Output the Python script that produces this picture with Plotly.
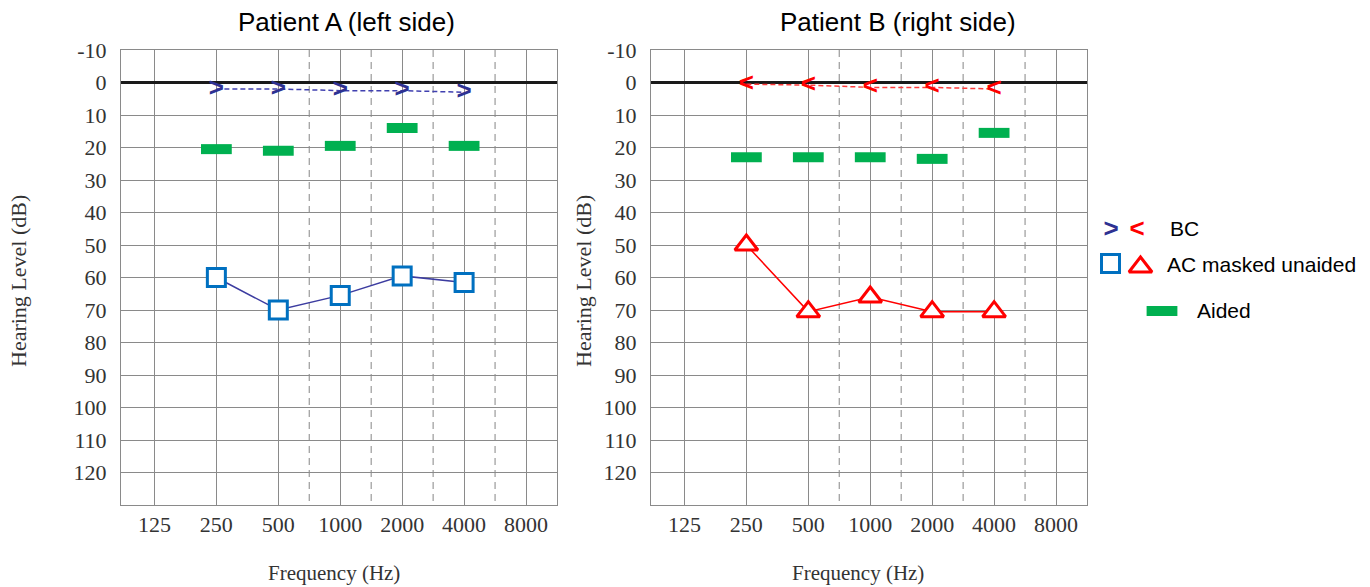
import math
import plotly.graph_objects as go

# Audiogram data (frequency in Hz, hearing level in dB HL)
tick_freqs = [125, 250, 500, 1000, 2000, 4000, 8000]
half_octave_freqs = [750, 1500, 3000, 6000]
test_freqs = [250, 500, 1000, 2000, 4000]
db_ticks = list(range(-10, 130, 10))
db_labels = ["-10"] + [str(v) for v in db_ticks[1:]]

# Patient A (left side)
bc_a = [2, 2, 2.5, 2.5, 3]
ac_a = [60, 70, 65.5, 59.5, 61.5]
aided_a = [20.5, 21, 19.5, 14, 19.5]

# Patient B (right side)
bc_b = [0.5, 0.8, 1.5, 1.5, 2]
ac_b = [50, 70.5, 66, 70.5, 70.5]
aided_b = [23, 23, 23, 23.5, 15.5]

W, H = 1370, 587

BLUE_BC = "#2E3192"
BLUE_BC_LINE = "#4040B0"
BLUE_AC = "#0070C0"
BLUE_AC_LINE = "#3C3CA0"
RED = "#FF0000"
RED_LINE = "#FF3B3B"
GREEN = "#00B050"
GRID = "#8a8a8a"
SERIF = "Liberation Serif"
SANS = "Liberation Sans"
LABEL_GREY = "#333333"


def px_x(x):
    return x / W


def px_y(y):
    return 1 - y / H


fig = go.Figure()

# x range: half an octave beyond the outer test frequencies
lo = math.log10(tick_freqs[0]) - 0.54 * math.log10(2)
hi = math.log10(tick_freqs[-1]) + 0.5 * math.log10(2)


def add_panel(xa, ya, bc, ac, aided, bc_sym, bc_color, bc_line, ac_sym, ac_size, ac_color, ac_line):
    # bone conduction
    fig.add_trace(go.Scatter(
        x=test_freqs, y=bc, mode="lines+text", text=[bc_sym] * len(bc),
        textposition="middle center",
        textfont=dict(family=SANS, weight="bold", size=26, color=bc_color),
        line=dict(color=bc_line, width=1.5, dash="5px,3px"),
        xaxis=xa, yaxis=ya, showlegend=False, hoverinfo="skip"))
    # aided thresholds
    fig.add_trace(go.Scatter(
        x=test_freqs, y=aided, mode="markers",
        marker=dict(symbol="line-ew", size=22, line=dict(width=10, color=GREEN)),
        xaxis=xa, yaxis=ya, showlegend=False, hoverinfo="skip"))
    # air conduction, masked, unaided
    fig.add_trace(go.Scatter(
        x=test_freqs, y=ac, mode="lines+markers",
        line=dict(color=ac_line, width=1.5),
        marker=dict(symbol=ac_sym, size=ac_size, color="white",
                    line=dict(width=3, color=ac_color)),
        xaxis=xa, yaxis=ya, showlegend=False, hoverinfo="skip"))


add_panel("x", "y", bc_a, ac_a, aided_a, ">", BLUE_BC, BLUE_BC_LINE,
          "square", 18, BLUE_AC, BLUE_AC_LINE)
add_panel("x2", "y2", bc_b, ac_b, aided_b, "<", RED, RED_LINE,
          "triangle-up", 20, RED, RED)

# half-octave dashed verticals
for xa, ya in (("x", "y"), ("x2", "y2")):
    for f in half_octave_freqs:
        # drawn midway (log scale) between the neighbouring octave lines
        lower = max(t for t in tick_freqs if t < f)
        xpos = lower * math.sqrt(2)
        fig.add_shape(type="line", xref=xa, yref=ya, x0=xpos, x1=xpos,
                      y0=-10, y1=130, layer="below",
                      line=dict(color="#9a9a9a", width=1.2, dash="7px,5px"))

xaxis_common = dict(
    type="log", range=[lo, hi], tickvals=tick_freqs,
    ticktext=[str(t) for t in tick_freqs],
    showgrid=True, gridcolor=GRID, gridwidth=1,
    showline=True, linecolor=GRID, linewidth=1, mirror=True,
    zeroline=False, ticks="", ticklabelstandoff=0, automargin=False,
    tickfont=dict(family=SERIF, size=22, color=LABEL_GREY),
    fixedrange=True,
)
yaxis_common = dict(
    range=[130, -10], tickvals=db_ticks, ticktext=db_labels,
    showgrid=True, gridcolor=GRID, gridwidth=1,
    showline=True, linecolor=GRID, linewidth=1, mirror=True,
    zeroline=True, zerolinecolor="#1a1a1a", zerolinewidth=2.5,
    ticks="", ticklabelstandoff=9, automargin=False,
    tickfont=dict(family=SERIF, size=22, color=LABEL_GREY),
    fixedrange=True,
)

# legend area in pixel coordinates (right of both panels)
LX0, LX1, LY0, LY1 = 1092, 1370, 200, 340

ydom = [px_y(505), px_y(50)]
fig.update_layout(
    width=W, height=H,
    margin=dict(l=0, r=0, t=0, b=0),
    paper_bgcolor="white", plot_bgcolor="rgba(0,0,0,0)",
    xaxis=dict(domain=[px_x(121), px_x(557)], anchor="y", **xaxis_common),
    yaxis=dict(domain=ydom, anchor="x", **yaxis_common),
    xaxis2=dict(domain=[px_x(651), px_x(1087)], anchor="y2", **xaxis_common),
    yaxis2=dict(domain=ydom, anchor="x2", **yaxis_common),
    xaxis3=dict(domain=[px_x(LX0), px_x(LX1)], range=[LX0, LX1], visible=False,
                anchor="y3", fixedrange=True, automargin=False),
    yaxis3=dict(domain=[px_y(LY1), px_y(LY0)], range=[LY1, LY0], visible=False,
                anchor="x3", fixedrange=True, automargin=False),
    showlegend=False,
)

# legend keys
fig.add_trace(go.Scatter(x=[1111, 1137], y=[230, 230], mode="text", text=[">", "<"],
                         textposition="middle center",
                         textfont=dict(family=SANS, weight="bold", size=26, color=[BLUE_BC, RED]),
                         xaxis="x3", yaxis="y3", hoverinfo="skip"))
fig.add_trace(go.Scatter(x=[1110.5], y=[263.5], mode="markers",
                         marker=dict(symbol="square", size=18, color="white",
                                     line=dict(width=3, color=BLUE_AC)),
                         xaxis="x3", yaxis="y3", hoverinfo="skip"))
fig.add_trace(go.Scatter(x=[1140.5], y=[267], mode="markers",
                         marker=dict(symbol="triangle-up", size=20, color="white",
                                     line=dict(width=3, color=RED)),
                         xaxis="x3", yaxis="y3", hoverinfo="skip"))
fig.add_trace(go.Scatter(x=[1162], y=[311], mode="markers",
                         marker=dict(symbol="line-ew", size=22, line=dict(width=10, color=GREEN)),
                         xaxis="x3", yaxis="y3", hoverinfo="skip"))

anns = []
for txt, cx in (("Patient A (left side)", 346), ("Patient B (right side)", 898)):
    anns.append(dict(text=txt, x=px_x(cx), y=px_y(22), xref="paper", yref="paper",
                     showarrow=False, xanchor="center", yanchor="middle",
                     font=dict(family=SANS, size=26, color="black")))
for cx in (334, 858):
    anns.append(dict(text="Frequency (Hz)", x=px_x(cx), y=px_y(573), xref="paper", yref="paper",
                     showarrow=False, xanchor="center", yanchor="middle",
                     font=dict(family=SERIF, size=21, color=LABEL_GREY)))
for cx in (18, 583):
    anns.append(dict(text="Hearing Level (dB)", x=px_x(cx), y=px_y(281), xref="paper", yref="paper",
                     showarrow=False, xanchor="center", yanchor="middle", textangle=-90,
                     font=dict(family=SERIF, size=22, color=LABEL_GREY)))
for txt, lx, ly in (("BC", 1168, 229), ("AC masked unaided", 1165, 264), ("Aided", 1195, 310)):
    anns.append(dict(text=txt, x=px_x(lx), y=px_y(ly), xref="paper", yref="paper",
                     showarrow=False, xanchor="left", yanchor="middle",
                     font=dict(family=SANS, size=21, color="black")))
fig.update_layout(annotations=anns)

fig.write_html("out.html")
